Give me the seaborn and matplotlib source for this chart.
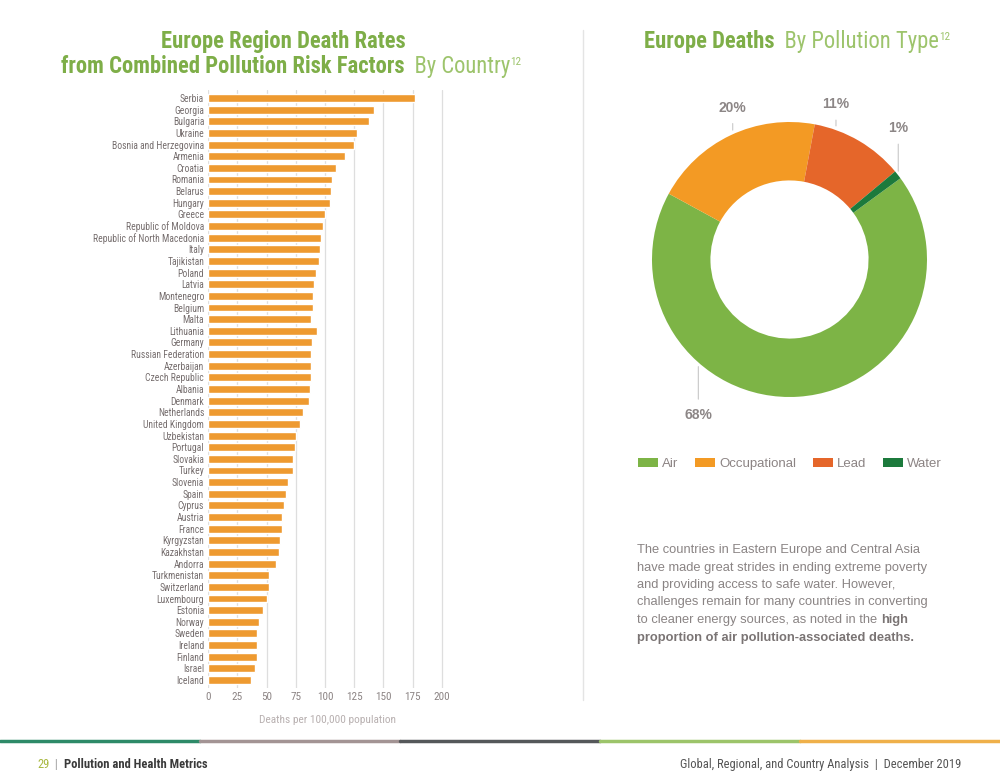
import numpy as np
import pandas as pd
import matplotlib
matplotlib.use('Agg')
import matplotlib.pyplot as plt
from matplotlib import font_manager as fm
from matplotlib.patches import Patch
from matplotlib.lines import Line2D
import seaborn as sns

# death rates per 100,000 population, by country
countries = ['Serbia', 'Georgia', 'Bulgaria', 'Ukraine', 'Bosnia and Herzegovina', 'Armenia',
             'Croatia', 'Romania', 'Belarus', 'Hungary', 'Greece', 'Republic of Moldova',
             'Republic of North Macedonia', 'Italy', 'Tajikistan', 'Poland', 'Latvia', 'Montenegro',
             'Belgium', 'Malta', 'Lithuania', 'Germany', 'Russian Federation', 'Azerbaijan',
             'Czech Republic', 'Albania', 'Denmark', 'Netherlands', 'United Kingdom', 'Uzbekistan',
             'Portugal', 'Slovakia', 'Turkey', 'Slovenia', 'Spain', 'Cyprus', 'Austria', 'France',
             'Kyrgyzstan', 'Kazakhstan', 'Andorra', 'Turkmenistan', 'Switzerland', 'Luxembourg',
             'Estonia', 'Norway', 'Sweden', 'Ireland', 'Finland', 'Israel', 'Iceland']
rates = [177, 142, 138, 127, 125, 117, 109, 106, 105, 104.5, 100, 98.5, 96.5, 95.5, 95, 92.5, 91,
         90, 89.5, 88, 93, 89, 88, 88, 88, 87, 86.5, 81.5, 79, 75, 74.5, 73, 72.5, 68, 67, 65,
         63, 63, 61.5, 60.5, 58, 52, 52, 50, 46.5, 43.5, 41.5, 41.5, 41.5, 40, 36.5]
x_ticks = [0, 25, 50, 75, 100, 125, 150, 175, 200]

# deaths by pollution type (%)
types = ['Air', 'Occupational', 'Lead', 'Water']
shares = [68, 20, 11, 1]
type_colors = ['#7DB446', '#F39A24', '#E5662A', '#1C7A3C']

df = pd.DataFrame({'country': countries, 'rate': rates})

sns.set_style('white')
plt.rcParams['font.family'] = ['Liberation Sans', 'DejaVu Sans']

# pick a condensed face if one is installed
installed = {f.name for f in fm.fontManager.ttflist}
narrow_name = next((n for n in ['Roboto Condensed', 'Liberation Sans Narrow',
                                'DejaVu Sans Condensed', 'Open Sans Condensed', 'Roboto']
                    if n in installed), 'DejaVu Sans')
narrow = [narrow_name, 'DejaVu Sans']
condensed = narrow_name != 'Roboto'

W, H = 1000, 776
fig = plt.figure(figsize=(W / 100, H / 100), dpi=100)
renderer = fig.canvas.get_renderer()

def fx(px):
    return px / W

def fy(py):
    return 1 - py / H

# ---- bar chart ----
step = 11.64
left, right = 208.3, 208.3 + 204 * 1.167
top, bottom = 98 - 0.7 * step, 680 + 0.7 * step
ax = fig.add_axes([fx(left), fy(bottom), fx(right - left), (bottom - top) / H])
sns.barplot(data=df, x='rate', y='country', orient='h', color='#EE9A30', saturation=1,
            width=0.68, ax=ax, zorder=3)
ax.set_xlim(0, 204)
ax.set_ylim(len(countries) - 0.3, -0.7)
ax.set_xticks(x_ticks)
ax.xaxis.grid(True, color='#dedede', lw=0.9, zorder=0)
ax.set_axisbelow(True)
for s in ax.spines.values():
    s.set_visible(False)
ax.tick_params(axis='both', length=0, pad=3)
for lab in ax.get_yticklabels():
    lab.set_fontsize(6.9)
    lab.set_color('#766e6e')
    lab.set_family(narrow)
for lab in ax.get_xticklabels():
    lab.set_fontsize(8)
    lab.set_color('#8c8484')
    lab.set_family(narrow)
ax.set_ylabel('')
ax.set_xlabel('Deaths per 100,000 population', fontsize=8.2, color='#b8b0b0',
              family=narrow, labelpad=9)

# ---- donut ----
R = 137.5
cx, cy = 789.5, 259.5
pax = fig.add_axes([fx(cx - 1.6 * R), fy(cy + 1.6 * R), 3.2 * R / W, 3.2 * R / H])
pax.pie(shares, colors=type_colors, startangle=36.2, counterclock=False,
        wedgeprops=dict(width=0.425, linewidth=0))
pax.set_xlim(-1.6, 1.6)
pax.set_ylim(-1.6, 1.6)
pax.axis('off')

lbl = dict(fontsize=10, color='#8c8686', fontweight='bold', ha='center', va='center')
line_kw = dict(arrowstyle='-', color='#c8c8c8', lw=0.8, shrinkA=4, shrinkB=3)
label_pos = [(-0.663, -1.131), (-0.413, 1.104), (0.338, 1.129), (0.791, 0.954)]
for share, (lx, ly) in zip(shares, label_pos):
    ry = np.sqrt(1 - lx ** 2) * np.sign(ly)
    pax.annotate(f'{share}%', xy=(lx, ry), xytext=(lx, ly), arrowprops=line_kw, **lbl)

handles = [Patch(facecolor=c, edgecolor='none') for c in type_colors]
leg = fig.legend(handles, types, loc='center', bbox_to_anchor=(fx(790), fy(464)), ncol=4,
                 frameon=False, fontsize=9.5, handlelength=1.5, handleheight=0.6,
                 handletextpad=0.3, columnspacing=1.3)
for t in leg.get_texts():
    t.set_color('#8c8484')

# ---- text helpers ----
def split_kw(kw):
    kw = dict(kw)
    rise = kw.pop('rise', 0)
    return kw, rise

def parts_width(parts):
    total = 0
    for txt, kw in parts:
        kw, _ = split_kw(kw)
        t = fig.text(0, 0, txt, **kw)
        total += t.get_window_extent(renderer).width
        t.remove()
    return total

def put_line(parts, x, y, center=False):
    if center:
        x = x - parts_width(parts) / 2
    for txt, kw in parts:
        kw, rise = split_kw(kw)
        t = fig.text(fx(x), fy(y - rise), txt, va='baseline', ha='left', **kw)
        x += t.get_window_extent(renderer).width

tsize = 16.3 if condensed else 13.5
green_b = dict(fontsize=tsize, color='#7EAE48', fontweight='bold', family=narrow)
green_l = dict(fontsize=tsize, color='#9DC46C', family=narrow)
sup = dict(fontsize=8, color='#9DC46C', family=narrow, rise=8)

put_line([('Europe Region Death Rates', green_b)], 283, 48, center=True)
put_line([('from Combined Pollution Risk Factors', green_b), ('  By Country', green_l),
          ('12', sup)], 291, 73, center=True)
put_line([('Europe Deaths', green_b), ('  By Pollution Type', green_l), ('12', sup)],
         797, 48, center=True)

# vertical divider
fig.add_artist(Line2D([fx(583), fx(583)], [fy(30), fy(700)], color='#e4e4e4', lw=1))

# paragraph
body = dict(fontsize=9.3, color='#8a8484')
body_b = dict(fontsize=9.3, color='#7a7474', fontweight='bold')
para = [
    [('The countries in Eastern Europe and Central Asia', body)],
    [('have made great strides in ending extreme poverty', body)],
    [('and providing access to safe water. However,', body)],
    [('challenges remain for many countries in converting', body)],
    [('to cleaner energy sources, as noted in the ', body), ('high', body_b)],
    [('proportion of air pollution-associated deaths.', body_b)],
]
for i, parts in enumerate(para):
    put_line(parts, 637, 553 + i * 17.5)

# footer band
band = ['#2E8A68', '#A39494', '#55585A', '#9CC46A', '#EFB04A']
for i, c in enumerate(band):
    fig.add_artist(Line2D([fx(i * 200), fx((i + 1) * 200)], [fy(741), fy(741)], color=c, lw=2.5))

foot = dict(fontsize=9, family=narrow)
put_line([('29', dict(foot, color='#A8B840')), ('  |  ', dict(foot, color='#9a9a9a')),
          ('Pollution and Health Metrics', dict(foot, color='#3a3a3a', fontweight='bold'))],
         37, 768)
put_line([('Global, Regional, and Country Analysis  |  December 2019',
           dict(foot, color='#555555'))], 680, 768)

fig.savefig('out.png', dpi=100)
